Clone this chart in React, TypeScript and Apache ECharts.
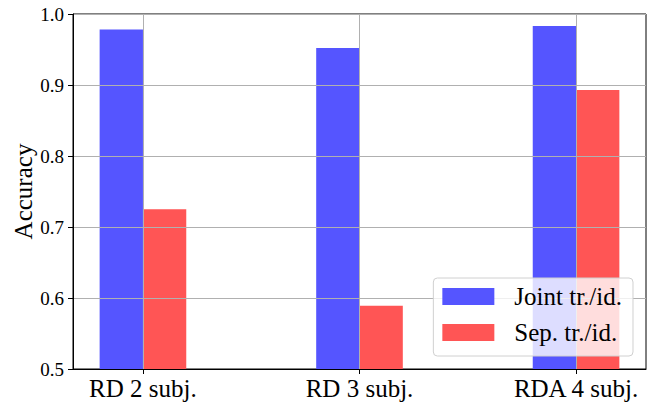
import React, { useEffect, useRef } from "react";
import * as echarts from "echarts";

const categories = ["RD 2 subj.", "RD 3 subj.", "RDA 4 subj."];
const jointValues = [0.978, 0.952, 0.983];
const sepValues = [0.725, 0.589, 0.893];
const yTicks = [0.5, 0.6, 0.7, 0.8, 0.9, 1.0];
const seriesNames = ["Joint tr./id.", "Sep. tr./id."];
const seriesColors = ["#5555ff", "#ff5555"];

const FONT = "Liberation Serif";
const BAR_UNITS = 0.2;
const Y_MIN = 0.5;

export default function App() {
  const ref = useRef<HTMLDivElement>(null);
  useEffect(() => {
    if (!ref.current) return;
    const chart = echarts.init(ref.current, null, { renderer: "svg" });
    const positions = categories.map((_, i) => i);
    const makeSeries = (name: string, values: number[], idx: number) => ({
      name,
      type: "custom",
      z: 2,
      itemStyle: { color: seriesColors[idx] },
      encode: { x: 0, y: 1 },
      renderItem: (params: any, api: any) => {
        const x = api.value(0);
        const y = api.value(1);
        const top = api.coord([x, y]);
        const base = api.coord([x, Y_MIN]);
        const w = api.size([BAR_UNITS, 0])[0];
        const left = idx === 0 ? top[0] - w : top[0];
        return {
          type: "rect",
          shape: { x: left, y: top[1], width: w, height: base[1] - top[1] },
          style: { fill: seriesColors[idx] },
        };
      },
      data: values.map((v, i) => [i, v]),
    });
    chart.setOption({
      animation: false,
      backgroundColor: "#ffffff",
      grid: {
        left: 73,
        top: 14,
        right: 12,
        bottom: 34,
        containLabel: false,
        outerBoundsMode: "none",
        show: true,
        borderColor: "#000",
        borderWidth: 1,
        backgroundColor: "transparent",
      },
      legend: {
        orient: "vertical",
        right: 25,
        bottom: 47,
        itemWidth: 52,
        itemHeight: 17,
        itemGap: 11,
        padding: [6, 11, 11, 9],
        backgroundColor: "rgba(255,255,255,0.8)",
        borderColor: "#d0d0d0",
        borderWidth: 1,
        borderRadius: 4,
        icon: "rect",
        z: 10,
        textStyle: { fontFamily: FONT, fontSize: 25, color: "#000", padding: [0, 0, 0, 15] },
        data: seriesNames.map((n, i) => ({ name: n, itemStyle: { color: seriesColors[i] } })),
      },
      xAxis: {
        type: "value",
        min: -0.323,
        max: 2.323,
        z: 3,
        axisLine: { show: true, onZero: false, lineStyle: { color: "#000", width: 1 } },
        axisTick: { show: true, length: 5, customValues: positions, lineStyle: { color: "#000" } },
        axisLabel: {
          customValues: positions,
          formatter: (v: number) => categories[Math.round(v)] ?? "",
          fontFamily: FONT,
          fontSize: 25,
          color: "#000",
          margin: 7,
        },
        splitLine: { show: true, customValues: positions, lineStyle: { color: "#b0b0b0", width: 1 } },
      },
      yAxis: {
        type: "value",
        min: Y_MIN,
        max: 1.0,
        interval: 0.1,
        z: 3,
        name: "Accuracy",
        nameLocation: "middle",
        nameGap: 37,
        nameMoveOverlap: false,
        nameTextStyle: { fontFamily: FONT, fontSize: 25, color: "#000" },
        axisLine: { show: true, onZero: false, lineStyle: { color: "#000", width: 1 } },
        axisTick: { show: true, length: 5, lineStyle: { color: "#000" } },
        axisLabel: {
          formatter: (v: number) => {
            const t = yTicks.find((x) => Math.abs(x - v) < 1e-6);
            return (t ?? v).toFixed(1);
          },
          fontFamily: FONT,
          fontSize: 19,
          color: "#000",
          margin: 9,
        },
        splitLine: { show: true, lineStyle: { color: "#b0b0b0", width: 1 } },
      },
      series: [
        makeSeries(seriesNames[0], jointValues, 0),
        makeSeries(seriesNames[1], sepValues, 1),
      ],
    });
    return () => chart.dispose();
  }, []);
  return <div ref={ref} style={{ width: 658, height: 403, position: "absolute", left: 0, top: 0 }} />;
}
